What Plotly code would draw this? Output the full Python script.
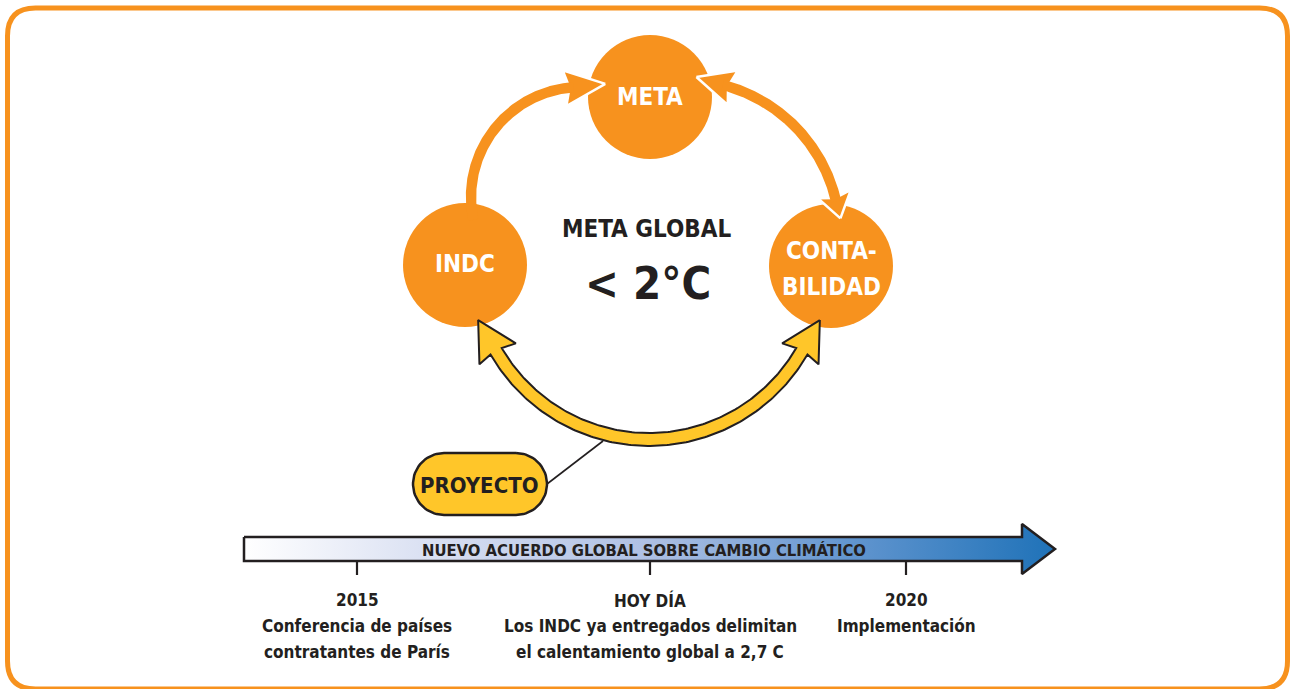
import numpy as np
import plotly.graph_objects as go

# ---------------- data ----------------
W, H = 1293, 689
ORANGE = "#F7921E"
YELLOW = "#FFC629"
INK = "#231F20"
FONT = "Liberation Sans Narrow, DejaVu Sans Condensed, Arial Narrow, sans-serif"

# cycle nodes
node_lines = [["INDC"], ["META"], ["CONTA-", "BILIDAD"]]
node_x = [465, 650, 831]
node_y = [265, 97, 266]
node_r = [62, 62, 62]

center_title = "META GLOBAL"
center_value = "< 2°C"
project_label = "PROYECTO"

# timeline
timeline_title = "NUEVO ACUERDO GLOBAL SOBRE CAMBIO CLIMÁTICO"
milestone_x = [357, 650, 906]
milestone_head = ["2015", "HOY DÍA", "2020"]
milestone_text = [
    ["Conferencia de países", "contratantes de París"],
    ["Los INDC ya entregados delimitan", "el calentamiento global a 2,7 C"],
    ["Implementación"],
]
timeline_colors = [[0.0, "#FFFFFF"], [0.25, "#D6DDF1"], [0.5, "#AEC0E4"],
                   [0.75, "#6195CF"], [1.0, "#1F72B8"]]


# ---------------- geometry helpers ----------------
def arc(cx, cy, r, a0, a1, n=160):
    t = np.radians(np.linspace(a0, a1, n))
    return cx + r * np.cos(t), cy + r * np.sin(t)


def head_frame(cx, cy, r, base_deg, s):
    th = np.radians(base_deg)
    b = np.array([cx + r * np.cos(th), cy + r * np.sin(th)])
    t = s * np.array([-np.sin(th), np.cos(th)])
    n = np.array([np.cos(th), np.sin(th)])
    return b, t, n


def simple_head(cx, cy, r, base_deg, s, L, HW, sweep):
    b, t, n = head_frame(cx, cy, r, base_deg, s)
    tip = b + L * t
    bo = b + HW * n - sweep * t
    bi = b - HW * n - sweep * t
    pts = [tip, bo, b, bi, tip]
    return [p[0] for p in pts], [p[1] for p in pts]


def band(cx, cy, r, half, a0, a1):
    ox, oy = arc(cx, cy, r + half, a0, a1)
    ix, iy = arc(cx, cy, r - half, a1, a0)
    return list(ox) + list(ix) + [ox[0]], list(oy) + list(iy) + [oy[0]]


fig = go.Figure()

# ---------------- orange cycle arrows ----------------
orange_heads = [
    # (cx, cy, r, base angle, direction, length, half width, sweep)
    (581, 197, 110, -96.0, 1, 36, 18, 5),
    (684, 236, 156, -73.6, -1, 33, 18, 5),
    (684, 236, 156, -14.1, 1, 21, 17, 4),
]
for cx, cy, r, a, s, L, HW, sw in orange_heads:
    hx, hy = simple_head(cx, cy, r, a, s, L, HW, sw)
    fig.add_trace(go.Scatter(x=hx, y=hy, mode="lines", fill="toself",
                             fillcolor=ORANGE, line=dict(color="white", width=2.5),
                             hoverinfo="skip", showlegend=False))

orange_shafts = [(581, 197, 110, -192, -94.0), (684, 236, 156, -75.6, -12.8)]
for cx, cy, r, a0, a1 in orange_shafts:
    sx, sy = band(cx, cy, r, 5.2, a0, a1)
    fig.add_trace(go.Scatter(x=sx, y=sy, mode="lines", fill="toself",
                             fillcolor=ORANGE, line=dict(width=0, color=ORANGE),
                             hoverinfo="skip", showlegend=False))

# ---------------- PROYECTO connector ----------------
fig.add_trace(go.Scatter(x=[547, 603], y=[484, 441], mode="lines",
                         line=dict(color=INK, width=1.6),
                         hoverinfo="skip", showlegend=False))

# ---------------- yellow double arrow ----------------
ycx, ycy, yr = 649, 263, 176.5
hw, HW, L, sweep = 6.5, 21, 36, 3
aR, aL = 30.0, 150.0
bR, tR, nR = head_frame(ycx, ycy, yr, aR, -1)
bL, tL, nL = head_frame(ycx, ycy, yr, aL, 1)
ox, oy = arc(ycx, ycy, yr + hw, aR, aL)
ix, iy = arc(ycx, ycy, yr - hw, aL, aR)
poly = []
poly.append(bR + L * tR)
poly.append(bR + HW * nR - sweep * tR)
poly += list(zip(ox, oy))
poly.append(bL + HW * nL - sweep * tL)
poly.append(bL + L * tL)
poly.append(bL - HW * nL - sweep * tL)
poly += list(zip(ix, iy))
poly.append(bR - HW * nR - sweep * tR)
poly.append(bR + L * tR)
fig.add_trace(go.Scatter(x=[p[0] for p in poly], y=[p[1] for p in poly],
                         mode="lines", fill="toself", fillcolor=YELLOW,
                         line=dict(color=INK, width=2), hoverinfo="skip",
                         showlegend=False))

# ---------------- PROYECTO pill ----------------
px0, px1, py0, py1 = 413, 547, 453, 515
pr = (py1 - py0) / 2
a1x, a1y = arc(px1 - pr, (py0 + py1) / 2, pr, -90, 90, 40)
a2x, a2y = arc(px0 + pr, (py0 + py1) / 2, pr, 90, 270, 40)
pillx = list(a1x) + list(a2x) + [a1x[0]]
pilly = list(a1y) + list(a2y) + [a1y[0]]
fig.add_trace(go.Scatter(x=pillx, y=pilly, mode="lines", fill="toself",
                         fillcolor=YELLOW, line=dict(color=INK, width=2.5),
                         hoverinfo="skip", showlegend=False))

# ---------------- timeline arrow ----------------
tx = [244, 1022, 1022, 1055, 1022, 1022, 244, 244]
ty = [537, 537, 524, 549, 574, 561, 561, 537]
fig.add_trace(go.Scatter(x=tx, y=ty, mode="lines", fill="toself",
                         fillgradient=dict(type="horizontal", colorscale=timeline_colors),
                         line=dict(color=INK, width=2.5), hoverinfo="skip",
                         showlegend=False))
for mx in milestone_x:
    fig.add_trace(go.Scatter(x=[mx, mx], y=[562, 575], mode="lines",
                             line=dict(color=INK, width=2.2), hoverinfo="skip",
                             showlegend=False))

# ---------------- shapes ----------------
def rounded_rect_path(x0, y0, x1, y1, r):
    return (f"M{x0 + r},{y0} L{x1 - r},{y0} Q{x1},{y0} {x1},{y0 + r} "
            f"L{x1},{y1 - r} Q{x1},{y1} {x1 - r},{y1} L{x0 + r},{y1} "
            f"Q{x0},{y1} {x0},{y1 - r} L{x0},{y0 + r} Q{x0},{y0} {x0 + r},{y0} Z")


shapes = [dict(type="path", path=rounded_rect_path(7.5, 8, 1287.5, 689, 28),
               line=dict(color=ORANGE, width=5), layer="below")]
for x, y, r in zip(node_x, node_y, node_r):
    shapes.append(dict(type="circle", x0=x - r, x1=x + r, y0=y - r, y1=y + r,
                       fillcolor=ORANGE, line=dict(width=0), layer="below"))

# ---------------- text ----------------
ann = []


def text(x, y, s, size, color=INK):
    ann.append(dict(x=x, y=y, text=f"<b>{s}</b>", showarrow=False,
                    xanchor="center", yanchor="middle",
                    font=dict(family=FONT, size=size, color=color)))


node_text_offsets = [[-1], [0], [-15, 21]]
for lines, x, y, offs in zip(node_lines, node_x, node_y, node_text_offsets):
    for ln, dy in zip(lines, offs):
        text(x, y + dy, ln, 24, "white")

text(646, 229, center_title, 24)
text(648, 283, center_value, 45)
text(479, 485, project_label, 22)
text(644, 550, timeline_title, 16.5)
for mx, head, lines in zip(milestone_x, milestone_head, milestone_text):
    text(mx, 600, head, 17)
    for k, ln in enumerate(lines):
        text(mx, 626 + 26 * k, ln, 17)

fig.update_layout(
    width=W, height=H, margin=dict(l=0, r=0, t=0, b=0),
    paper_bgcolor="white", plot_bgcolor="white",
    xaxis=dict(range=[0, W], visible=False, fixedrange=True),
    yaxis=dict(range=[H, 0], visible=False, fixedrange=True),
    shapes=shapes, annotations=ann, showlegend=False,
)
fig.write_html("out.html", config={"displayModeBar": False},
               post_script="document.body.style.margin='0px';")
